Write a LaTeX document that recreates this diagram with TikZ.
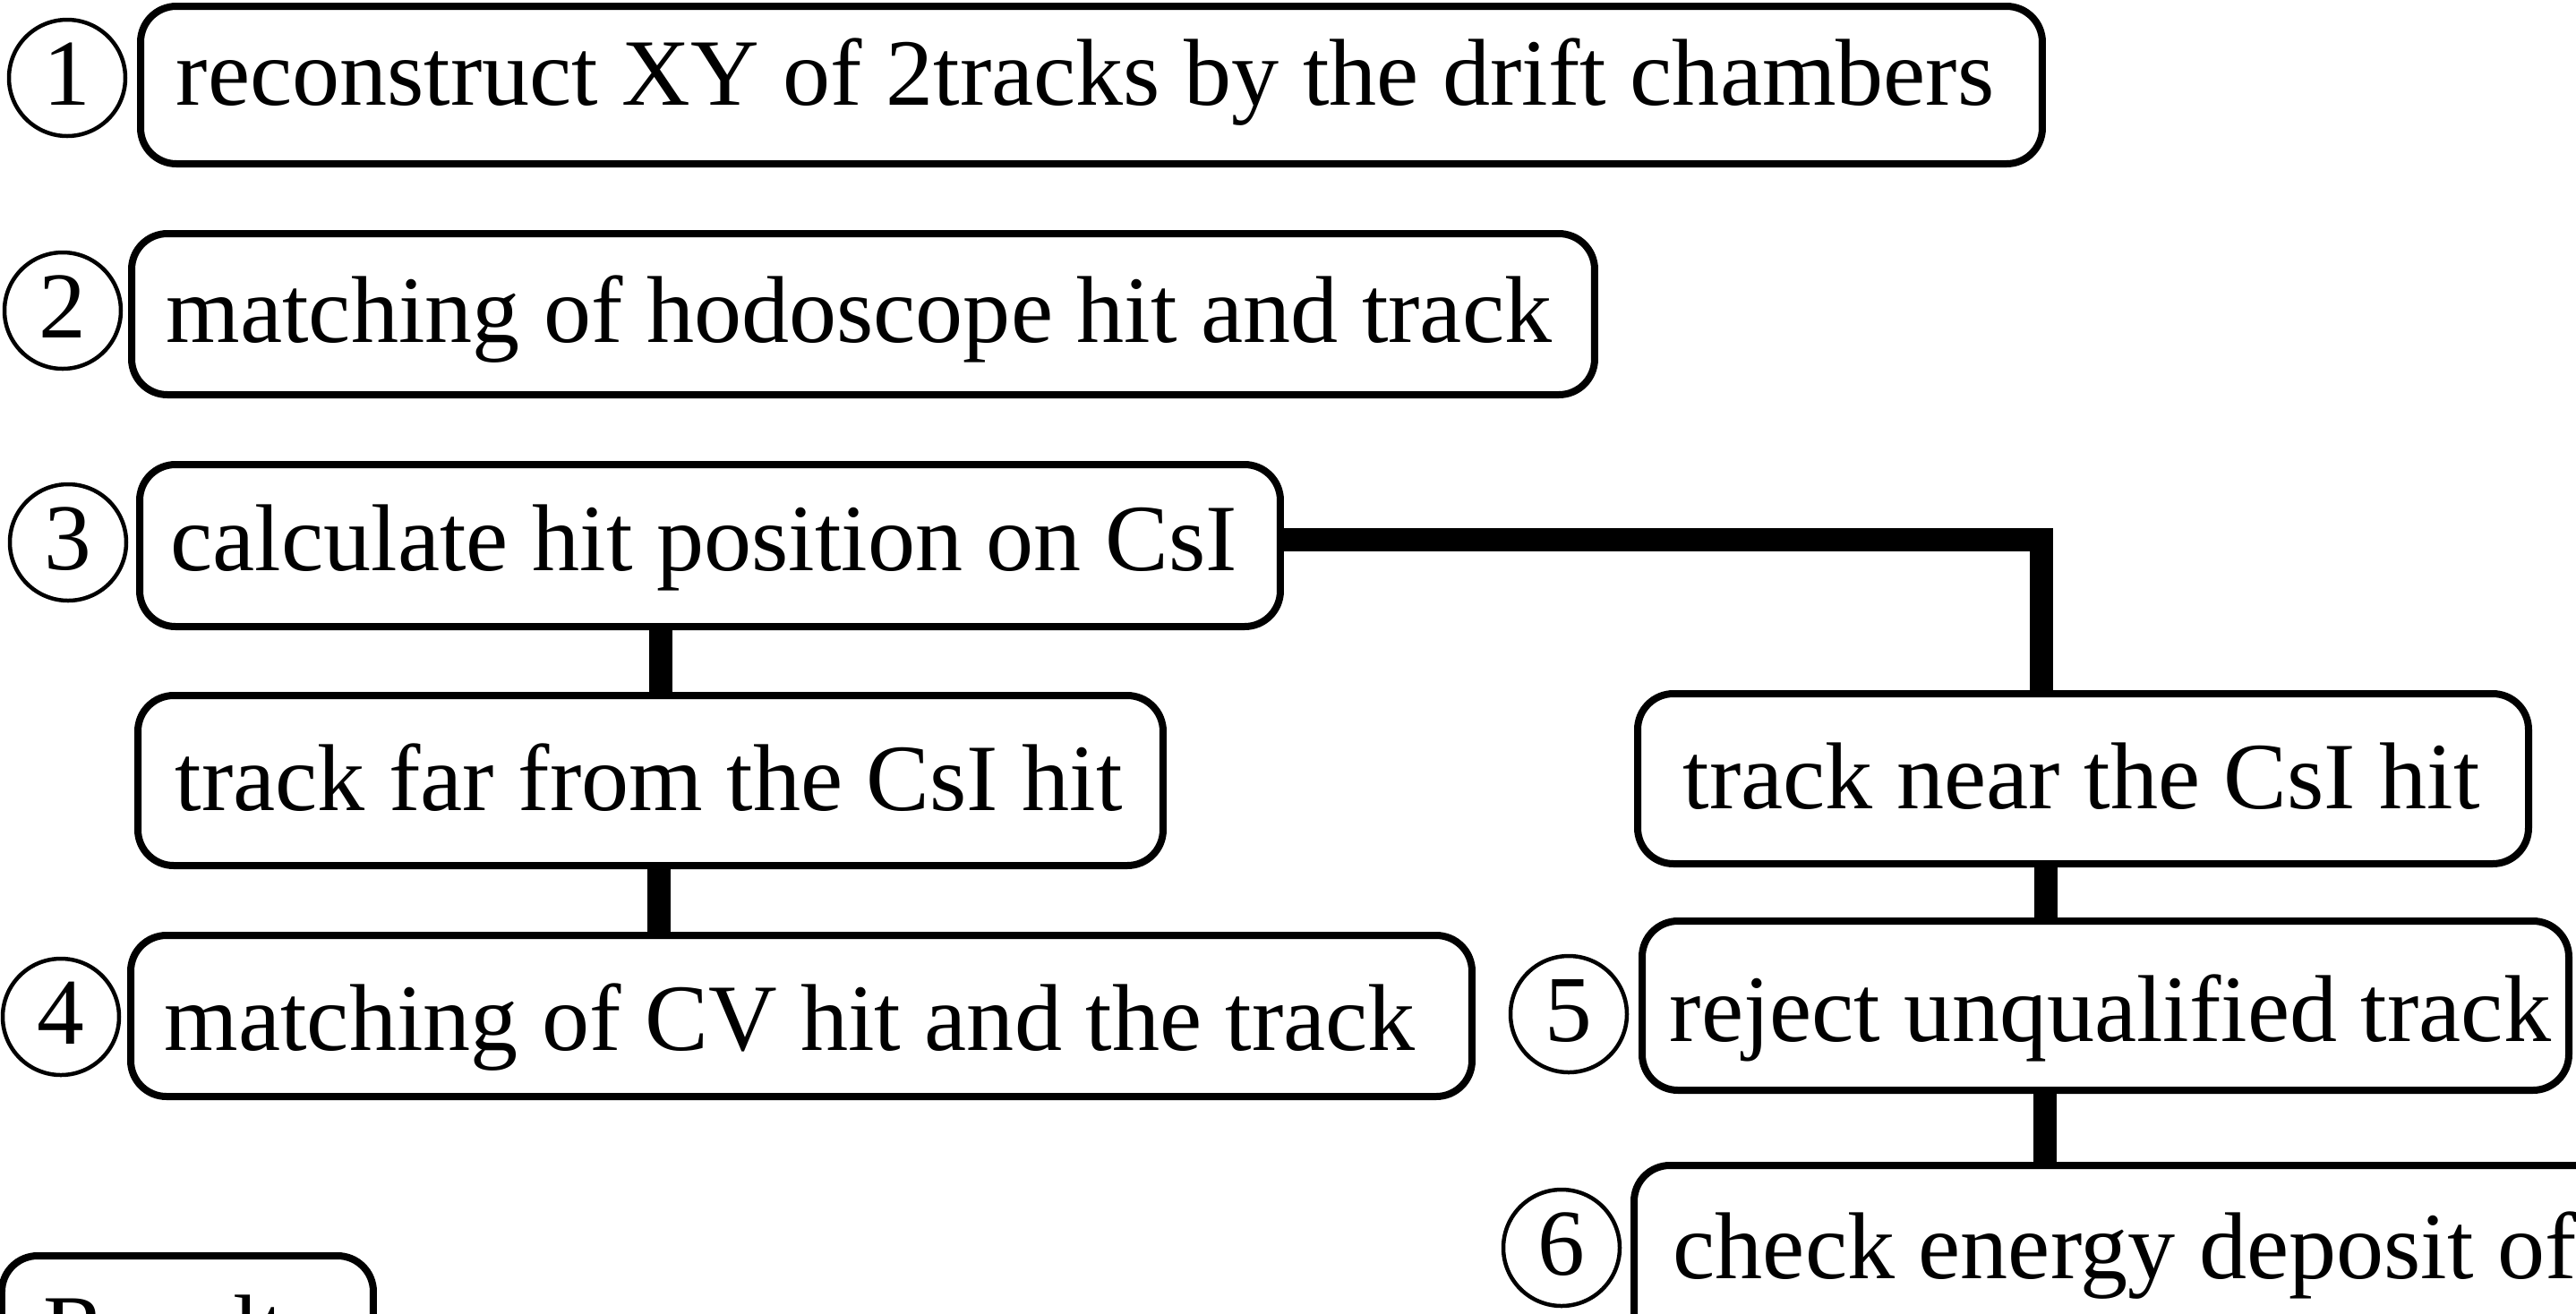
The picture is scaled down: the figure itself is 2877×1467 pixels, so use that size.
\documentclass[tikz,border=0pt]{standalone}
\usepackage{fontspec}
\setmainfont{Liberation Serif}
\begin{document}
\begin{tikzpicture}[x=0.1mm,y=-0.1mm,
  box/.style={draw, line width=0.8mm, outer sep=0.4mm, rounded corners=4mm, fill=white, inner sep=0, anchor=north west},
  num/.style={draw, circle, line width=0.45mm, minimum size=13.0mm, inner sep=0, text height=20.4pt, text depth=3.3pt, font=\fontsize{30pt}{36pt}\selectfont},
  txt/.style={anchor=base west, inner sep=0, font=\fontsize{30.2pt}{36pt}\selectfont},
  conn/.style={line width=2.6mm}]
\useasboundingbox (0,0) rectangle (2877,1467);
\clip (0,0) rectangle (2877,1467);

% boxes
\node[box, minimum width=212.4mm, minimum height=17.6mm] (b1) at (153,3) {};
\node[box, minimum width=163.4mm, minimum height=18.0mm] (b2) at (143,257) {};
\node[box, minimum width=127.4mm, minimum height=18.1mm] (b3) at (152,515) {};
\node[box, minimum width=114.5mm, minimum height=19.0mm] (far) at (150,773) {};
\node[box, minimum width=99.5mm, minimum height=19.0mm] (near) at (1825,771) {};
\node[box, minimum width=149.8mm, minimum height=18.0mm] (b4) at (142,1041) {};
\node[box, minimum width=103.5mm, minimum height=18.9mm] (b5) at (1830,1025) {};
\node[box, minimum width=150mm, minimum height=25mm] (b6) at (1821,1298) {};
\node[box, minimum width=41.5mm, minimum height=25mm] (res) at (-2,1399) {};

% texts
\node[txt] (t1) at (196,117) {reconstruct XY of 2tracks by the drift chambers};
\node[txt] (t2) at (185,382) {matching of hodoscope hit and track};
\node[txt] (t3) at (190,637) {calculate hit position on CsI};
\node[txt] (tf) at (195,905) {track far from the CsI hit};
\node[txt] (tn) at (1879,903) {track near the CsI hit};
\node[txt] (t4) at (183,1173) {matching of CV hit and the track};
\node[txt] (t5) at (1864,1163) {reject unqualified track};
\node[txt] (t6) at (1868,1428) {check energy deposit of};
\node[txt] (tr) at (48,1520) {Result};

% step numbers
\node[num] (c1) at (75,87) {1};
\node[num] (c2) at (70,347) {2};
\node[num] (c3) at (76,606) {3};
\node[num] (c4) at (68,1136) {4};
\node[num] (c5) at (1752,1133) {5};
\node[num] (c6) at (1744,1394) {6};

% connectors
\coordinate (k) at (2280,603);
\coordinate (xa) at (738,0);
\coordinate (xb) at (736,0);
\coordinate (xc) at (2285,0);
\coordinate (xd) at (2284,0);
\draw[conn] (b3.east |- k) -- (k) -- (k |- near.north);
\draw[conn] (xa |- b3.south) -- (xa |- far.north);
\draw[conn] (xb |- far.south) -- (xb |- b4.north);
\draw[conn] (xc |- near.south) -- (xc |- b5.north);
\draw[conn] (xd |- b5.south) -- (xd |- b6.north);
\end{tikzpicture}
\end{document}
